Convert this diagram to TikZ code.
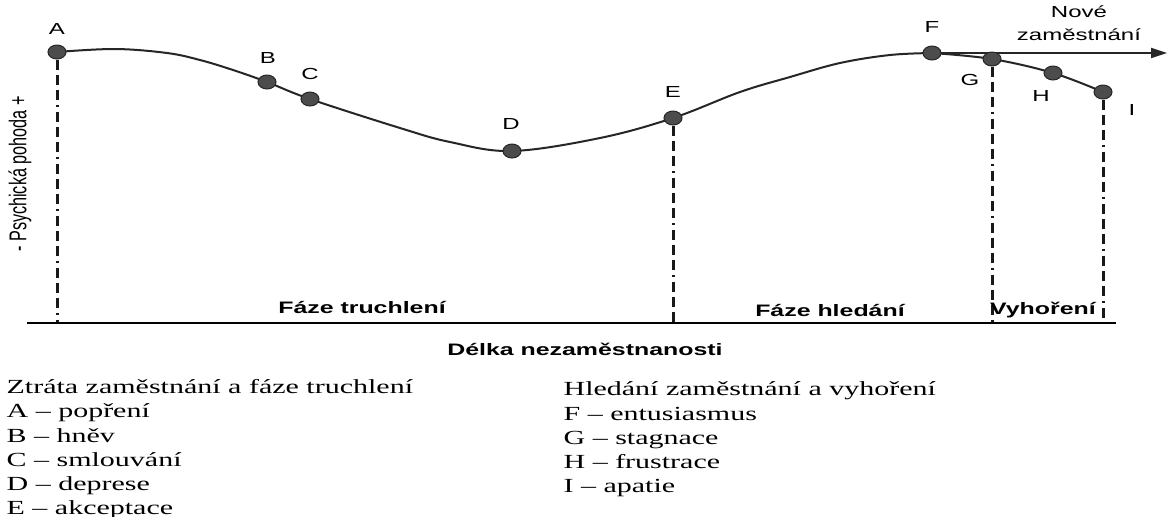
\documentclass[tikz,border=0pt]{standalone}
\usepackage{fontspec}
\setmainfont{Liberation Serif}
\newfontfamily\lsans{Liberation Sans}
\usetikzlibrary{shapes.geometric,arrows.meta}
\tikzset{
  curve/.style={line width=1pt, draw=black!85},
  vline/.style={line width=1.5pt, draw=black!90, dash pattern=on 5pt off 2.5pt on 5pt off 2.5pt on 5pt off 2.5pt on 1pt off 2.5pt},
  ptmark/.style={ellipse, fill=black!70, draw=black!85, line width=0.5pt, minimum width=9pt, minimum height=7pt, inner sep=0pt},
  lbl/.style={font=\lsans\fontsize{8}{9}\selectfont, inner sep=0pt, text=black},
  phase/.style={font=\lsans\bfseries\fontsize{8.3}{10}\selectfont, inner sep=0pt},
  leg/.style={font=\fontsize{10}{12}\selectfont, anchor=base west, inner sep=0pt},
  widetext/.style={xscale=1.5, transform shape, x=0.333333pt, y=-0.5pt}
}
\begin{document}
\begin{tikzpicture}[x=0.5pt,y=-0.5pt]
\useasboundingbox[fill=white] (0,0) rectangle (1168,516);
% point positions
\coordinate (pA) at (57,52);
\coordinate (pB) at (267,82);
\coordinate (pC) at (310,99);
\coordinate (pD) at (512,151);
\coordinate (pE) at (673,118);
\coordinate (pF) at (932,53);
\coordinate (pG) at (992,59);
\coordinate (pH) at (1053,73);
\coordinate (pI) at (1103,92);
\coordinate (axL) at (27,323);
\coordinate (axR) at (1116,323);
\coordinate (arrEnd) at (1167,53);
% main curve
\draw[curve] plot[smooth, tension=0.6] coordinates {(pA) (115,49) (167,53) (200,60) (233,70) (pB) (pC) (400,128) (450,142) (pD) (600,138) (pE) (740,92) (790,77) (840,63) (890,55) (pF)};
\draw[curve] plot[smooth, tension=0.6] coordinates {(pF) (pG) (pH) (pI)};
% arrow to new job
\draw[curve, -{Triangle[length=8pt,width=5pt]}] (pF) -- (arrEnd);
% markers
\foreach \n in {A,B,C,D,E,F,G,H,I} {\node[ptmark] (\n) at (p\n) {};}
% vertical dashed lines
\draw[vline] (A.south) -- (A.south |- axL);
\draw[vline] (E.south) -- (E.south |- axL);
\draw[vline] (G.south) -- (G.south |- axL);
\draw[vline] (I.south) -- (I.south |- axL);
% axis
\draw[line width=1.3pt] (axL) -- (axR);
\begin{scope}[widetext]
% point labels
\node[lbl] (lA) at (57,29) {A};
\node[lbl] (lB) at (268,58) {B};
\node[lbl] (lC) at (310,74) {C};
\node[lbl] (lD) at (511,124) {D};
\node[lbl] (lE) at (673,92) {E};
\node[lbl] (lF) at (932,27) {F};
\node[lbl] (lG) at (970,80) {G};
\node[lbl] (lH) at (1041,96) {H};
\node[lbl] (lI) at (1132,110) {I};
\node[lbl, align=center, font=\lsans\fontsize{8}{11.5}\selectfont] (nove) at (1079,23) {Nové\\zaměstnání};
% y axis label
\node[inner sep=0pt, rotate=90, font=\lsans\fontsize{8.1}{10}\selectfont] (ylab) at (20,174) {- Psychická pohoda +};
% phases
\node[phase] (ph1) at (362,307) {Fáze truchlení};
\node[phase] (ph2) at (830,310) {Fáze hledání};
\node[phase] (ph3) at (1043,310) {Vyhoření};
\node[phase] (xlab) at (585,349) {Délka nezaměstnanosti};
% legend
\node[leg] (l1) at (6,393) {Ztráta zaměstnání a fáze truchlení};
\node[leg] (l2) at (6,417) {A – popření};
\node[leg] (l3) at (6,442) {B – hněv};
\node[leg] (l4) at (6,466) {C – smlouvání};
\node[leg] (l5) at (6,490) {D – deprese};
\node[leg] (l6) at (6,514) {E – akceptace};
\node[leg] (r1) at (563,395) {Hledání zaměstnání a vyhoření};
\node[leg] (r2) at (563,420) {F – entusiasmus};
\node[leg] (r3) at (563,444) {G – stagnace};
\node[leg] (r4) at (563,468) {H – frustrace};
\node[leg] (r5) at (563,492) {I – apatie};
\end{scope}
\end{tikzpicture}
\end{document}
